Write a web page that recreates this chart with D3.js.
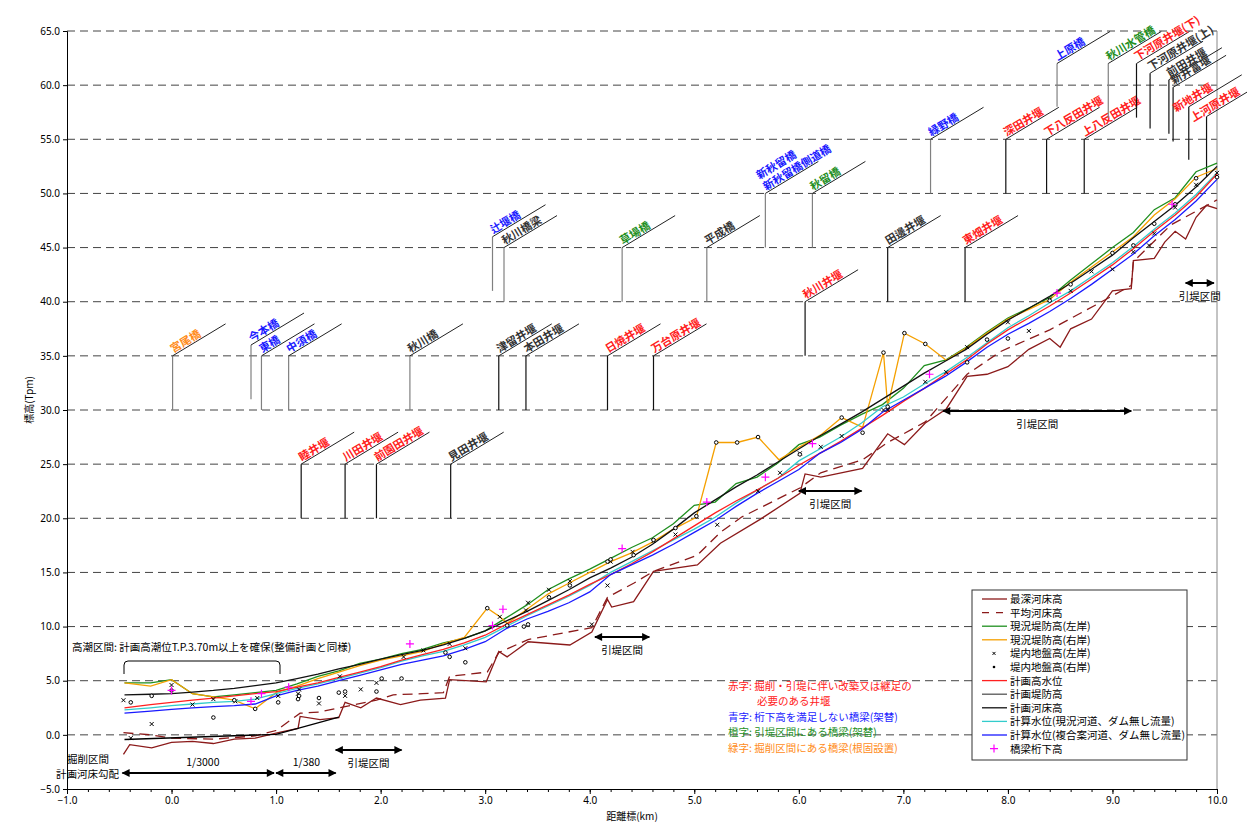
<!DOCTYPE html>
<html>
<head>
<meta charset="utf-8">
<script src="https://cdn.jsdelivr.net/npm/d3@7"></script>
<style>
  body { margin: 0; background: #fff; }
  text { font-family: "Noto Sans CJK JP", "Noto Sans", sans-serif; }
</style>
</head>
<body>
<svg id="chart" width="1247" height="823"></svg>
<script>
var svg = d3.select("#chart"),
    width = +svg.attr("width"),
    height = +svg.attr("height");

// ---- data ----
var km = [-0.45,-0.2,0,0.2,0.4,0.6,0.8,1.0,1.2,1.4,1.6,1.8,2.0,2.2,2.4,2.6,2.8,3.0,3.2,3.4,3.6,3.8,4.0,4.2,4.4,4.6,4.8,5.0,5.2,5.4,5.6,5.8,6.0,6.2,6.4,6.6,6.8,7.0,7.2,7.4,7.6,7.8,8.0,8.2,8.4,8.6,8.8,9.0,9.2,9.4,9.6,9.8,10.0];

var planDike = [3.7,3.75,3.8,3.95,4.1,4.3,4.55,4.8,5.2,5.6,6.1,6.5,7.0,7.4,7.8,8.3,8.9,9.6,10.5,11.4,12.4,13.4,14.5,15.4,16.4,17.6,19.0,20.5,21.7,22.9,24.0,25.2,26.4,27.6,28.7,29.8,31.0,32.2,33.4,34.5,35.6,37.0,38.3,39.4,40.5,41.7,43.0,44.3,45.9,47.4,48.9,50.6,52.5];
var planHWL = [2.5,2.8,3.0,3.2,3.4,3.6,3.8,4.0,4.4,4.8,5.3,5.8,6.3,6.9,7.4,7.9,8.5,9.2,10.2,11.1,12.0,12.9,13.9,14.8,15.8,16.9,18.1,19.3,20.5,21.6,22.6,23.7,24.9,26.0,27.1,28.3,29.5,30.8,32.0,33.3,34.6,36.1,37.4,38.5,39.6,40.8,42.1,43.4,44.9,46.5,48.0,49.7,51.8];
var calcNow = [2.3,2.5,2.7,2.85,3.0,3.1,3.3,3.8,4.3,4.7,5.2,5.7,6.2,6.8,7.3,7.7,8.3,9.0,10.0,11.0,11.9,12.8,13.8,15.0,16.0,17.0,18.0,19.0,20.1,21.4,22.6,23.7,25.3,26.4,27.5,28.8,30.3,31.2,32.4,33.5,34.8,36.2,37.6,38.7,39.9,41.0,42.3,43.6,45.1,46.7,48.2,49.9,51.9];
var calcPlan = [2.0,2.2,2.35,2.5,2.6,2.7,2.85,3.6,4.1,4.5,5.0,5.5,6.0,6.5,6.9,7.3,7.9,8.6,9.8,10.7,11.4,12.2,13.2,14.8,15.7,16.6,17.6,18.7,19.8,21.1,22.3,23.4,24.5,26.0,27.0,28.2,29.8,30.9,32.0,33.1,34.4,35.8,37.0,38.0,39.1,40.3,41.6,43.0,44.4,46.1,47.6,49.3,51.3];
var leftBank = [4.8,4.8,5.1,3.8,3.5,3.7,3.9,4.1,4.7,5.4,5.9,6.6,7.0,7.5,7.9,8.5,8.9,9.6,10.8,12.0,13.4,14.4,15.3,16.3,17.3,18.2,19.5,21.2,21.5,23.2,23.8,25.1,26.8,27.5,28.6,29.6,30.5,32.0,34.1,34.6,35.8,37.2,38.5,39.4,40.4,42.0,43.5,45.0,46.4,48.5,49.6,52.0,52.8];

var rightKm = [-0.45,-0.2,0,0.2,0.4,0.6,0.8,1.0,1.2,1.4,1.6,1.8,2.0,2.2,2.4,2.6,2.8,3.02,3.14,3.21,3.4,3.6,3.8,4.0,4.2,4.4,4.6,4.8,5.02,5.21,5.41,5.61,5.81,6.01,6.21,6.41,6.61,6.81,6.85,7.01,7.21,7.41,7.61,7.8,8.0,8.2,8.4,8.6,8.8,9.0,9.2,9.4,9.6,9.8,10.0];
var rightBank = [4.8,4.5,5.1,3.8,3.5,3.2,2.4,3.9,4.5,5.2,5.8,6.4,6.9,7.3,7.7,8.4,9.0,11.7,10.9,10.3,11.6,13.0,14.0,15.0,16.0,16.8,17.8,19.0,20.1,27.0,27.0,27.5,25.4,26.6,27.7,29.3,28.4,35.3,30.3,37.1,36.1,34.6,35.8,37.1,38.4,39.3,40.2,41.8,43.2,44.6,46.0,48.0,49.5,51.5,52.3];

var planBedKm = [-0.45, 1.0, 1.6];
var planBed = [-0.43, 0.05, 1.63];

var deepKm = [-0.46,-0.4,-0.19,0.0,0.2,0.4,0.6,0.8,1.02,1.21,1.23,1.42,1.6,1.66,1.81,1.96,2.19,2.38,2.62,2.66,3.01,3.13,3.21,3.41,3.81,4.02,4.17,4.21,4.42,4.61,5.03,5.25,5.63,6.01,6.06,6.21,6.61,6.85,7.01,7.21,7.41,7.61,7.8,8.0,8.2,8.4,8.5,8.6,8.8,9.0,9.18,9.2,9.4,9.5,9.6,9.7,9.8,9.9,10.0];
var deepBed = [-1.8,-0.9,-1.2,-0.7,-0.6,-0.8,-0.4,-0.3,0.2,0.6,1.7,1.4,1.6,3.0,2.5,3.4,2.8,3.2,3.4,5.1,4.9,7.7,7.2,8.6,8.3,9.5,12.5,11.8,12.3,15.1,15.7,17.7,19.9,22.3,24.1,23.8,24.6,27.8,26.8,28.8,30.1,33.1,33.3,34.0,35.6,36.6,35.8,37.5,38.4,41.0,41.2,43.8,44.0,45.5,46.5,45.8,47.8,48.9,48.6];

var meanKm = [-0.46,-0.2,0.0,0.4,0.8,1.0,1.23,1.41,1.61,1.96,2.12,2.4,2.6,2.66,3.02,3.13,3.41,4.02,4.17,4.42,4.61,5.03,5.25,5.45,6.01,6.21,6.61,6.85,7.21,7.61,7.93,8.4,8.84,9.18,9.2,9.56,10.0];
var meanBed = [0.2,0.0,-0.3,-0.4,-0.1,0.4,2.0,2.1,2.5,3.2,3.7,3.8,3.9,5.4,5.8,7.6,8.8,9.9,12.7,14.0,15.1,16.6,18.7,20.1,22.8,24.2,25.4,27.0,28.9,33.3,35.4,37.4,39.7,41.5,43.7,47.1,49.4];

var groundLeft = [[-0.46,3.2],[-0.39,-0.3],[-0.19,1.0],[0.0,4.6],[0.2,2.8],[0.4,3.3],[0.61,3.1],[0.82,3.4],[1.02,3.6],[1.21,3.8],[1.22,4.2],[1.41,2.9],[1.61,5.4],[1.66,3.6],[1.81,4.2],[1.96,4.8],[2.22,7.2],[2.41,7.8],[2.66,8.4],[2.81,8.0],[3.14,10.9],[3.39,11.5],[3.41,12.2],[3.61,13.4],[3.81,14.2],[4.02,10.2],[4.17,13.8],[4.2,16.0],[4.41,16.9],[4.61,17.9],[4.82,18.5],[5.22,19.4],[5.61,22.5],[5.82,24.2],[6.01,26.0],[6.21,26.6],[6.41,27.6],[6.81,30.0],[6.85,30.0],[7.21,32.6],[7.41,33.5],[7.61,35.8],[8.0,38.1],[8.2,37.3],[8.4,40.2],[8.6,41.0],[8.8,42.8],[9.0,43.0],[9.2,44.6],[9.35,45.2],[9.4,46.3],[9.6,48.7],[9.8,50.8],[10.0,51.9]];
var groundRight = [[-0.39,3.0],[-0.19,3.6],[0.0,4.1],[0.4,1.6],[0.6,3.2],[0.8,2.4],[1.02,3.0],[1.21,3.3],[1.22,3.6],[1.41,3.4],[1.6,3.9],[1.66,4.0],[1.96,4.0],[2.01,5.2],[2.2,5.2],[2.62,7.6],[2.66,7.2],[2.81,6.7],[3.02,11.7],[3.21,10.1],[3.37,10.0],[3.41,10.2],[3.61,12.7],[3.81,13.8],[4.17,16.0],[4.2,16.2],[4.42,16.6],[4.61,18.0],[4.82,19.1],[5.02,20.2],[5.21,27.0],[5.41,27.0],[5.61,27.5],[6.01,25.9],[6.41,29.3],[6.61,27.9],[6.81,35.3],[6.85,30.3],[7.01,37.1],[7.21,36.1],[7.61,34.4],[7.8,36.5],[8.0,36.6],[8.4,40.1],[8.6,41.6],[9.0,44.5],[9.2,45.2],[9.4,47.2],[9.6,49.0],[9.8,51.4],[10.0,51.5]];
var girder = [[0.0,4.1],[0.76,3.1],[0.86,3.8],[1.12,4.4],[2.28,8.4],[3.07,10.1],[3.17,11.6],[4.31,17.2],[5.12,21.5],[5.68,23.8],[6.13,26.9],[7.25,33.3],[8.47,40.8],[9.57,49.0]];

// structures (weirs / bridges): name, km, low, high, colour key
var structName = ["睦井堰","川田井堰","前園田井堰","見田井堰",
  "宮尾橋","今本橋","東橋","中須橋","秋川橋","津留井堰","本田井堰","日焼井堰","万台原井堰",
  "辻堰橋","秋川橋梁","草場橋","平成橋","秋川井堰","田邊井堰","東畑井堰",
  "新秋留橋側道橋","秋留橋","緑野橋","深田井堰","下八反田井堰","上八反田井堰",
  "上原橋","秋川水管橋","下河原井堰(下)","下河原井堰(上)","前田井堰","新井富堰","新地井堰","上河原井堰"];
var structKm = [1.24,1.66,1.96,2.67, 0.01,0.76,0.86,1.12,2.28,3.13,3.39,4.17,4.61,
  3.07,3.18,4.31,5.12,6.06,6.85,7.59, 5.68,6.13,7.26,7.98,8.37,8.73,
  8.47,8.96,9.23,9.36,9.54,9.58,9.73,9.90];
var structLow = [20,20,20,20, 30,31,30,30,30,30,30,30,30, 41,40,40,40,35,40,40, 45,45,50,50,50,50,
  58,57,57,56,55.5,54.8,53.1,51.5];
var structHigh = [25,25,25,25, 35,36,35,35,35,35,35,35,35, 46,45,45,45,40,45,45, 50,50,55,55,55,55,
  62,62,62,61.1,60.5,59.8,58,57.1];
var structCol = ["r","r","r","k", "o","b","b","b","k","k","k","r","r",
  "b","k","g","k","r","k","r", "b","g","b","r","r","r",
  "b","g","r","k","k","k","r","r"];

var ySteps = d3.range(-5, 65.1, 5);
var xSteps = d3.range(-1, 10.1, 1);

var legendNames = ["最深河床高","平均河床高","現況堤防高(左岸)","現況堤防高(右岸)","堤内地盤高(左岸)","堤内地盤高(右岸)",
  "計画高水位","計画堤防高","計画河床高","計算水位(現況河道、ダム無し流量)","計算水位(複合案河道、ダム無し流量)","橋梁桁下高"];

// ---- scales ----
var x = d3.scaleLinear().domain([-1, 10]).range([67, 1217]);
var y = d3.scaleLinear().domain([-5, 65]).range([789, 31]);

var colors = { r: "#ff2020", b: "#1a1aff", g: "#1f8f1f", o: "#ff8c1a", k: "#333" };

// grid
svg.append("g").selectAll("line").data(ySteps.filter(function(v){ return v > -5; }))
  .enter().append("line")
  .attr("x1", x(-1)).attr("x2", x(10))
  .attr("y1", function(d){ return y(d); }).attr("y2", function(d){ return y(d); })
  .attr("stroke", "#444").attr("stroke-dasharray", "8,5");

svg.append("line").attr("x1", x(10)).attr("x2", x(10)).attr("y1", y(65)).attr("y2", y(-5))
  .attr("stroke", "#888");

// axes
var yAxis = svg.append("g").attr("transform", "translate(" + x(-1) + ",0)")
  .call(d3.axisLeft(y).tickValues(ySteps).tickFormat(d3.format(".1f")).tickSize(4));
var xAxis = svg.append("g").attr("transform", "translate(0," + y(-5) + ")")
  .call(d3.axisBottom(x).tickValues(xSteps).tickFormat(d3.format(".1f")).tickSize(5));
svg.append("g").attr("transform", "translate(0," + y(-5) + ")")
  .call(d3.axisBottom(x).tickValues(d3.range(-1, 10.01, 0.2)).tickFormat("").tickSize(3))
  .select(".domain").remove();
[yAxis, xAxis].forEach(function(a){
  a.selectAll("text").attr("font-size", 10).attr("fill", "#000")
    .style("font-family", "'Noto Sans', sans-serif");
  a.select(".domain").attr("stroke", "#000");
});

svg.append("text").attr("transform", "translate(33,400) rotate(-90)")
  .attr("text-anchor", "middle").attr("font-size", 10).text("標高(Tpm)");
svg.append("text").attr("x", 632).attr("y", 820)
  .attr("text-anchor", "middle").attr("font-size", 10).text("距離標(km)");

// ---- structure annotations ----
var ann = svg.append("g");
structName.forEach(function(name, i){
  var vx = x(structKm[i]), top = y(structHigh[i]), bot = y(structLow[i]);
  var isBridge = /橋/.test(name);
  ann.append("line").attr("x1", vx).attr("x2", vx).attr("y1", bot).attr("y2", top)
    .attr("stroke", isBridge ? "#808080" : "#111").attr("stroke-width", 1.2);
  ann.append("line").attr("x1", vx).attr("x2", vx + 53).attr("y1", top).attr("y2", top - 32)
    .attr("stroke", "#222");
  var t = ann.append("g").attr("transform", "translate(" + vx + "," + top + ") rotate(-31)");
  var tx = vx > 1180 ? -14 : 2;
  t.append("text").attr("x", tx).attr("y", -2).attr("font-size", 11).attr("font-weight", "bold")
    .attr("fill", colors[structCol[i]]).text(name);
  if (name === "新秋留橋側道橋") {
    t.append("text").attr("x", tx).attr("y", -15).attr("font-size", 11).attr("font-weight", "bold")
      .attr("fill", colors[structCol[i]]).text("新秋留橋");
  }
});

// ---- series ----
function lineOf(xs, vs) {
  return d3.line().x(function(d, i){ return x(xs[i]); }).y(function(d){ return y(d); })(vs);
}
var series = [
  { xs: meanKm, vs: meanBed, c: "#8b1a1a", dash: "10,6" },
  { xs: deepKm, vs: deepBed, c: "#8b1a1a" },
  { xs: planBedKm, vs: planBed, c: "#000" },
  { xs: km, vs: leftBank, c: "#1f8f1f" },
  { xs: rightKm, vs: rightBank, c: "#f5a000" },
  { xs: km, vs: planDike, c: "#111" },
  { xs: km, vs: calcNow, c: "#33cccc" },
  { xs: km, vs: planHWL, c: "#ff2020" },
  { xs: km, vs: calcPlan, c: "#1a1aff" }
];
svg.append("g").selectAll("path").data(series).enter().append("path")
  .attr("d", function(s){ return lineOf(s.xs, s.vs); })
  .attr("fill", "none").attr("stroke", function(s){ return s.c; })
  .attr("stroke-width", 1.3)
  .attr("stroke-dasharray", function(s){ return s.dash || null; });

function cross(g, cx, cy, r) {
  g.append("path").attr("d", "M" + (cx - r) + "," + (cy - r) + "L" + (cx + r) + "," + (cy + r) +
    "M" + (cx - r) + "," + (cy + r) + "L" + (cx + r) + "," + (cy - r))
    .attr("stroke", "#000").attr("stroke-width", 1);
}
var marks = svg.append("g");
groundLeft.forEach(function(p){ cross(marks, x(p[0]), y(p[1]), 2); });
marks.selectAll("circle").data(groundRight).enter().append("circle")
  .attr("cx", function(d){ return x(d[0]); }).attr("cy", function(d){ return y(d[1]); })
  .attr("r", 1.8).attr("fill", "#fff").attr("stroke", "#000").attr("stroke-width", 1);
girder.forEach(function(p){
  var cx = x(p[0]), cy = y(p[1]);
  marks.append("path").attr("d", "M" + (cx - 4) + "," + cy + "H" + (cx + 4) + "M" + cx + "," + (cy - 4) + "V" + (cy + 4))
    .attr("stroke", "#ff00ff").attr("stroke-width", 1.2);
});

// ---- arrows and notes ----
var defs = svg.append("defs");
defs.append("marker").attr("id", "ah").attr("viewBox", "0 0 10 10").attr("refX", 9).attr("refY", 5)
  .attr("markerWidth", 4.5).attr("markerHeight", 4).attr("markerUnits", "strokeWidth").attr("orient", "auto-start-reverse")
  .append("path").attr("d", "M0,0L10,5L0,10z").attr("fill", "#000");

function arrow(k1, k2, py) {
  svg.append("line").attr("x1", x(k1)).attr("x2", x(k2)).attr("y1", py).attr("y2", py)
    .attr("stroke", "#000").attr("stroke-width", 2)
    .attr("marker-start", "url(#ah)").attr("marker-end", "url(#ah)");
}
function note(tx, ty, s, col, anchor, size) {
  svg.append("text").attr("x", tx).attr("y", ty).attr("font-size", size || 10.5)
    .attr("fill", col || "#000").attr("text-anchor", anchor || "start").text(s);
}

arrow(-0.47, 0.98, 773);
arrow(1.0, 1.57, 773);
note(x(0.3), 766, "1/3000", "#000", "middle");
note(x(1.29), 766, "1/380", "#000", "middle");
note(67, 763, "掘削区間");
note(56, 778, "計画河床勾配");

var levee = [[1.57, 2.2, 750], [4.05, 4.57, 637], [6.0, 6.6, 491], [7.38, 9.18, 411], [9.7, 9.97, 283]];
levee.forEach(function(l){
  arrow(l[0], l[1], l[2]);
  note(x((l[0] + l[1]) / 2), l[2] + 17, "引堤区間", "#000", "middle");
});

note(72, 651, "高潮区間: 計画高潮位T.P.3.70m以上を確保(整備計画と同様)", "#000", "start", 10.5);
svg.append("path")
  .attr("d", "M124,674V665Q124,661 128,661H276Q280,661 280,665V674")
  .attr("fill", "none").attr("stroke", "#000");

note(728, 690, "赤字: 掘削・引堤に伴い改築又は継足の", "#ff2020");
note(757, 705, "必要のある井堰", "#ff2020");
note(728, 721, "青字: 桁下高を満足しない橋梁(架替)", "#1a1aff");
note(728, 736, "橙字: 引堤区間にある橋梁(架替)", "#1f8f1f");
note(728, 752, "緑字: 掘削区間にある橋梁(根固設置)", "#ff8c1a");

// ---- legend ----
var lg = svg.append("g");
lg.append("rect").attr("x", 972).attr("y", 590).attr("width", 215).attr("height", 170)
  .attr("fill", "#fff").attr("stroke", "#333");
var legStyle = [
  { c: "#8b1a1a" }, { c: "#8b1a1a", dash: "7,7" }, { c: "#1f8f1f" }, { c: "#f5a000" },
  { m: "x" }, { m: "o" }, { c: "#ff2020" }, { c: "#555" }, { c: "#111" },
  { c: "#33cccc" }, { c: "#1a1aff" }, { m: "+" }
];
legendNames.forEach(function(name, i){
  var ly = 599 + i * 13.6;
  var st = legStyle[i];
  if (st.c) {
    lg.append("line").attr("x1", 982).attr("x2", 1007).attr("y1", ly).attr("y2", ly)
      .attr("stroke", st.c).attr("stroke-width", 1.3).attr("stroke-dasharray", st.dash || null);
  } else if (st.m === "x") {
    cross(lg, 994, ly, 1.5);
  } else if (st.m === "o") {
    lg.append("circle").attr("cx", 994).attr("cy", ly).attr("r", 1.3).attr("fill", "#000");
  } else {
    lg.append("path").attr("d", "M990," + ly + "H998M994," + (ly - 4) + "V" + (ly + 4))
      .attr("stroke", "#ff00ff").attr("stroke-width", 1.2);
  }
  lg.append("text").attr("x", 1010).attr("y", ly + 4).attr("font-size", 10.5).text(name);
});
</script>
</body>
</html>
